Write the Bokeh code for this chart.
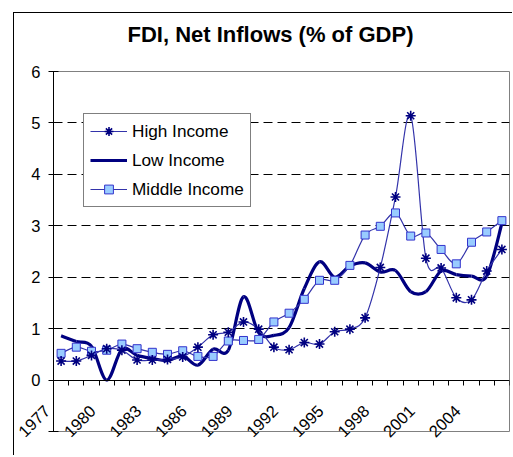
import math
from bokeh.plotting import figure
from bokeh.models import (Range1d, FixedTicker, LinearAxis, Legend,
                          LegendItem, ColumnDataSource)
from bokeh.embed import file_html
from bokeh.resources import INLINE

# ---- data ----
years = list(range(1977, 2007))
high_income = [0.37, 0.37, 0.48, 0.61, 0.58, 0.39, 0.39, 0.40, 0.45, 0.64,
               0.88, 0.93, 1.13, 0.99, 0.64, 0.59, 0.73, 0.70, 0.94, 0.99,
               1.21, 2.19, 3.56, 5.14, 2.37, 2.18, 1.60, 1.56, 2.12, 2.54]
low_income = [0.86, 0.75, 0.66, 0.00, 0.60, 0.48, 0.42, 0.38, 0.47, 0.29,
              0.60, 0.58, 1.62, 0.92, 0.87, 1.02, 1.78, 2.30, 2.00, 2.22,
              2.28, 2.10, 2.13, 1.72, 1.72, 2.12, 2.05, 2.02, 2.02, 3.05]
middle_income = [0.52, 0.64, 0.56, 0.58, 0.70, 0.61, 0.54, 0.50, 0.57, 0.46,
                 0.46, 0.76, 0.77, 0.79, 1.13, 1.30, 1.57, 1.94, 1.94, 2.23,
                 2.82, 2.99, 3.25, 2.80, 2.86, 2.54, 2.26, 2.68, 2.88, 3.10]
label_years = list(range(1977, 2005, 3))
y_ticks = [-1, 0, 1, 2, 3, 4, 5, 6]
grid_ticks = [1, 2, 3, 4, 5]

FONT = "Liberation Sans"
n = len(years)
xs = [i + 0.5 for i in range(n)]


def smooth_source(ys):
    """Bezier segments (Catmull-Rom style) passing through every data point."""
    d = dict(x0=[], y0=[], x1=[], y1=[], cx0=[], cy0=[], cx1=[], cy1=[])
    for i in range(n - 1):
        a = i - 1 if i > 0 else i
        b = i + 2 if i + 2 < n else i + 1
        d["x0"].append(xs[i]); d["y0"].append(ys[i])
        d["x1"].append(xs[i + 1]); d["y1"].append(ys[i + 1])
        d["cx0"].append(xs[i] + (xs[i + 1] - xs[a]) / 6)
        d["cy0"].append(ys[i] + (ys[i + 1] - ys[a]) / 6)
        d["cx1"].append(xs[i + 1] - (xs[b] - xs[i]) / 6)
        d["cy1"].append(ys[i + 1] - (ys[b] - ys[i]) / 6)
    return ColumnDataSource(d)


p = figure(
    output_backend="svg", toolbar_location=None, tools="",
    x_range=Range1d(0, n), y_range=Range1d(-1, 6),
    frame_width=456, frame_height=360,
    min_border_left=53, min_border_right=3, min_border_top=80, min_border_bottom=24,
    x_axis_location=None,
    title="FDI, Net Inflows (% of GDP)",
)
# chart-area border (left and top edges) drawn behind the transparent canvas border
p.styles = {
    "margin-top": "-9px",
    "background": ("linear-gradient(#000,#000) 13px 21px / 1px calc(100% - 21px) no-repeat, "
                   "linear-gradient(#000,#000) 13px 21px / calc(100% - 13px) 1px no-repeat, #fff"),
}
p.background_fill_color = "white"
p.border_fill_color = None
p.outline_line_color = "#808080"
p.outline_line_width = 1

p.title.text_font = FONT
p.title.text_font_size = "22px"
p.title.text_font_style = "bold"
p.title.text_color = "black"
p.title.align = "left"
p.title.offset = 74
p.title.standoff = 49

# y axis
ya = p.yaxis[0]
ya.ticker = FixedTicker(ticks=y_ticks)
ya.major_label_overrides = {-1: ""}
ya.axis_line_color = "black"
ya.major_tick_line_color = "black"
ya.major_tick_in = 5
ya.major_tick_out = 5
ya.minor_tick_line_color = None
ya.major_label_standoff = 8
ya.major_label_text_font = FONT
ya.major_label_text_font_size = "16.5px"
ya.major_label_text_color = "black"

p.ygrid.ticker = FixedTicker(ticks=grid_ticks)
p.ygrid.grid_line_color = "black"
p.ygrid.grid_line_dash = "9 5"
p.ygrid.grid_line_width = 1
p.xgrid.visible = False

# category labels (low position, rotated); each label sits at its category's left edge
label_pos = [years.index(y) for y in label_years]
la = LinearAxis(ticker=FixedTicker(ticks=label_pos))
la.major_label_overrides = {t: str(y) + "\u00a0\u00a0" for t, y in zip(label_pos, label_years)}
la.major_label_orientation = math.pi / 4
la.axis_line_color = None
la.major_tick_line_color = None
la.minor_tick_line_color = None
la.major_tick_in = 0
la.major_tick_out = 0
la.major_label_standoff = -30
la.major_label_text_font = FONT
la.major_label_text_font_size = "16.5px"
la.major_label_text_color = "black"
p.add_layout(la, "below")

# x axis line at y = 0 with category tick marks
xa = LinearAxis(fixed_location=0, ticker=FixedTicker(ticks=list(range(n + 1))))
xa.axis_line_color = "black"
xa.major_tick_line_color = "black"
xa.major_tick_in = 0
xa.major_tick_out = 5
xa.minor_tick_line_color = None
xa.major_label_text_font_size = "0px"
xa.major_label_text_color = None
p.add_layout(xa, "below")

# series
hs = smooth_source(high_income)
ls = smooth_source(low_income)
ms = smooth_source(middle_income)

r_low = p.bezier("x0", "y0", "x1", "y1", "cx0", "cy0", "cx1", "cy1", source=ls,
                 line_color="#000080", line_width=3.2)
r_mid = p.bezier("x0", "y0", "x1", "y1", "cx0", "cy0", "cx1", "cy1", source=ms,
                 line_color="#3333AA", line_width=1.2)
r_high = p.bezier("x0", "y0", "x1", "y1", "cx0", "cy0", "cx1", "cy1", source=hs,
                  line_color="#3333AA", line_width=1.2)
r_mid_m = p.scatter(xs, middle_income, marker="square", size=8,
                    fill_color="#99CCFF", line_color="#3333CC", line_width=1)
r_high_m = p.scatter(xs, high_income, marker="asterisk", size=10,
                     line_color="#000080", line_width=1.6)

legend = Legend(items=[
    LegendItem(label="High Income", renderers=[r_high, r_high_m]),
    LegendItem(label="Low Income", renderers=[r_low]),
    LegendItem(label="Middle Income", renderers=[r_mid, r_mid_m]),
], location=(30, 224))
legend.label_text_font = FONT
legend.label_text_font_size = "17.2px"
legend.label_text_color = "black"
legend.glyph_width = 37
legend.glyph_height = 22
legend.label_height = 22
legend.label_standoff = 5
legend.spacing = 7
legend.padding = 6
legend.margin = 0
legend.border_line_color = "black"
legend.border_line_width = 1
legend.background_fill_color = "white"
legend.background_fill_alpha = 1
p.add_layout(legend)

open("out.html", "w").write(file_html(p, INLINE))
